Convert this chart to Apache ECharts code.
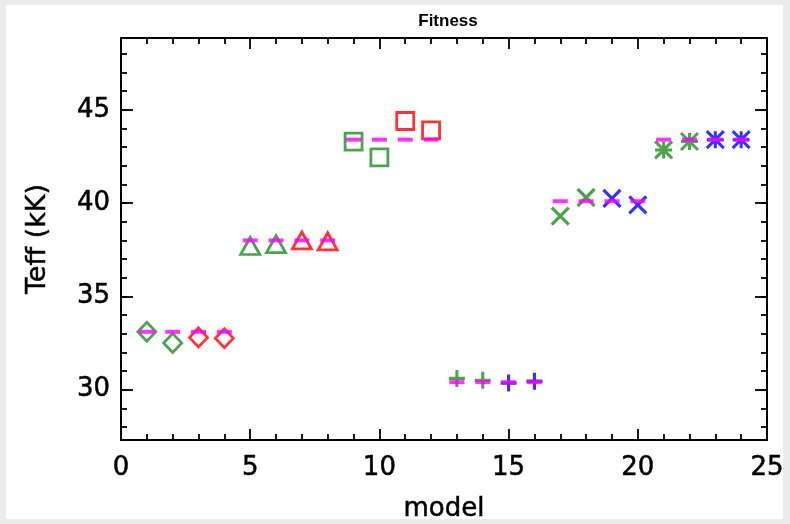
<!DOCTYPE html>
<html>
<head>
<meta charset="utf-8">
<script src="https://cdn.jsdelivr.net/npm/echarts@6/dist/echarts.min.js"></script>
<style>
  html, body { margin: 0; padding: 0; background: #ebebeb; }
  #paper { position: absolute; left: 6px; top: 5px; width: 777px; height: 514px; background: #ffffff; }
  #main { position: absolute; left: 0; top: 0; width: 790px; height: 524px; }
</style>
</head>
<body>
<div id="paper"></div>
<div id="main"></div>
<script>
// ---- data ----
const models = [1, 2, 3, 4, 5, 6, 7, 8, 9, 10, 11, 12, 13, 14, 15, 16, 17, 18, 19, 20, 21, 22, 23, 24];
const refTeff = [33.1, 33.1, 33.1, 33.1, 38.0, 38.0, 38.0, 38.0, 43.4, 43.4, 43.4, 43.4,
                 30.4, 30.4, 30.4, 30.4, 40.1, 40.1, 40.1, 40.1, 43.4, 43.4, 43.4, 43.4];
const fitTeff = [33.1, 32.5, 32.8, 32.75, 37.7, 37.8, 38.0, 37.95, 43.3, 42.45, 44.4, 43.9,
                 30.6, 30.5, 30.35, 30.45, 39.3, 40.3, 40.25, 39.9, 42.85, 43.3, 43.4, 43.4];
const fitColorKey = ['g', 'g', 'r', 'r', 'g', 'g', 'r', 'r', 'g', 'g', 'r', 'r',
                     'g', 'g', 'b', 'b', 'g', 'g', 'b', 'b', 'g', 'g', 'b', 'b'];
const groupSymbol = ['diamond', 'triangle', 'square', 'plus', 'cross', 'asterisk'];
const xTicks = [0, 5, 10, 15, 20, 25];
const yTicks = [30, 35, 40, 45];

// ---- styling ----
const colors = { g: '#228b22', r: '#ff0000', b: '#0000ff' };
const symbolDefs = {
  diamond: { symbol: 'diamond', size: [18, 19], bw: 2.8 },
  triangle: { symbol: 'triangle', size: [19, 17], bw: 2.8 },
  square: { symbol: 'rect', size: [17, 17], bw: 2.8 },
  plus: { symbol: 'path://M5,0L5,10M0,5L10,5', size: [16, 17], bw: 3.2 },
  cross: { symbol: 'path://M0,0L10,10M10,0L0,10', size: [17, 17], bw: 3.2 },
  asterisk: { symbol: 'path://M0,0L10,10M10,0L0,10M5,0L5,10M0,5L10,5', size: [17, 17], bw: 3 }
};
const FONT = 'DejaVu Sans';
const YMIN = 27.3, YMAX = 48.85;
const TXT = { fontFamily: FONT, color: '#000', textBorderColor: '#000', textBorderWidth: 0.5 };

const series = [];
for (let g = 0; g < 6; g++) {
  const def = symbolDefs[groupSymbol[g]];
  const data = [];
  for (let k = 0; k < 4; k++) {
    const i = g * 4 + k;
    data.push({
      value: [models[i], fitTeff[i]],
      itemStyle: { borderColor: colors[fitColorKey[i]] }
    });
  }
  series.push({
    type: 'scatter',
    xAxisIndex: 0, yAxisIndex: 0,
    symbol: def.symbol,
    symbolSize: def.size,
    itemStyle: { color: 'rgba(0,0,0,0)', borderWidth: def.bw },
    emphasis: { disabled: true },
    z: 2,
    data: data
  });
}
series.push({
  type: 'scatter',
  xAxisIndex: 0, yAxisIndex: 0,
  symbol: 'rect',
  symbolSize: [15, 4],
  itemStyle: { color: '#ff00ff' },
  emphasis: { disabled: true },
  z: 3,
  data: models.map((m, i) => [m, refTeff[i]])
});

const lineStyle = { color: '#000', width: 2 };
function xAxisDef(pos, showLabels) {
  return {
    type: 'value', position: pos, min: xTicks[0], max: xTicks[xTicks.length - 1], interval: 5,
    name: showLabels ? 'model' : '', nameLocation: 'middle', nameGap: 56,
    nameTextStyle: Object.assign({ fontSize: 26 }, TXT),
    axisLine: { show: true, onZero: false, lineStyle: lineStyle },
    axisTick: { show: true, inside: true, length: 11, lineStyle: { color: '#000', width: 1.8 } },
    minorTick: { show: true, splitNumber: 5, length: 6, lineStyle: { color: '#000', width: 1.8 } },
    axisLabel: Object.assign({ show: showLabels, fontSize: 26, margin: 15 }, TXT),
    splitLine: { show: false }
  };
}
function yAxisDef(pos, showLabels, split, tickLen, showLine) {
  return {
    type: 'value', position: pos, min: YMIN, max: YMAX, splitNumber: split,
    name: (showLabels && pos === 'left') ? 'Teff (kK)' : '', nameLocation: 'middle', nameGap: 70,
    nameTextStyle: Object.assign({ fontSize: 27 }, TXT),
    axisLine: { show: showLine, onZero: false, lineStyle: lineStyle },
    axisTick: { show: true, inside: true, length: tickLen, lineStyle: { color: '#000', width: 1.8 } },
    axisLabel: Object.assign({
      show: showLabels, fontSize: 26, margin: 11,
      showMinLabel: false, showMaxLabel: false,
      formatter: v => (yTicks.indexOf(v) >= 0 ? String(v) : '')
    }, TXT),
    splitLine: { show: false }
  };
}

const chart = echarts.init(document.getElementById('main'), null, { renderer: 'canvas' });
chart.setOption({
  backgroundColor: 'transparent',
  animation: false,
  title: {
    text: 'Fitness', left: 443, top: 8, textAlign: 'center',
    textStyle: { fontFamily: 'Liberation Sans', fontSize: 17, fontWeight: 'bold', color: '#000' }
  },
  grid: { left: 121, top: 38, right: 23, bottom: 84, containLabel: false, outerBoundsMode: 'none' },
  xAxis: [xAxisDef('bottom', true), xAxisDef('top', false)],
  yAxis: [
    yAxisDef('left', true, 4, 12, true),
    yAxisDef('left', false, 20, 6, false),
    yAxisDef('right', false, 4, 12, true),
    yAxisDef('right', false, 20, 6, false)
  ],
  series: series
});
</script>
</body>
</html>
